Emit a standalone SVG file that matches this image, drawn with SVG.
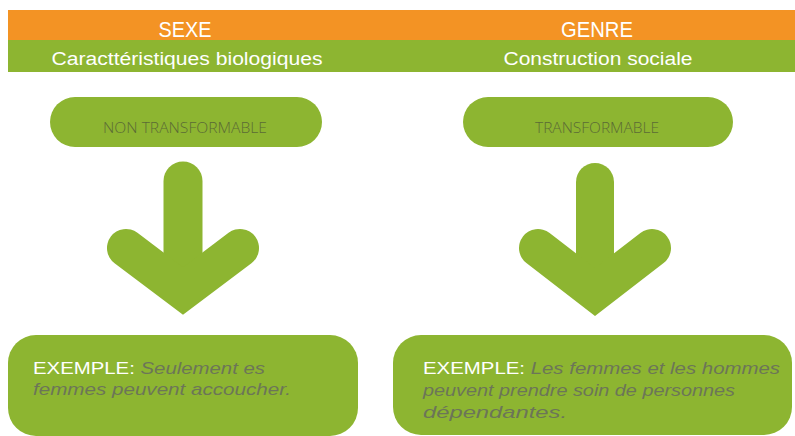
<svg xmlns="http://www.w3.org/2000/svg" width="795" height="436" viewBox="0 0 795 436">
<style>
.orange{fill:#F39324}
.green{fill:#8DB531}
.arrow{fill:none;stroke:#8DB531}
.hdr{font-family:"Liberation Sans",Arial,sans-serif;fill:#FFFFFF;text-anchor:middle}
.pilltxt{font-family:"Open Sans","Liberation Sans",sans-serif;font-weight:300;font-size:15px;fill:#5B6B35;text-anchor:middle}
.ex{font-family:"Liberation Sans",Arial,sans-serif;font-size:17px}
.exlbl{fill:#FFFFFF}
.exit{fill:#6C7558;font-style:italic}
</style>
<rect width="795" height="436" fill="#FFFFFF"/>
<g id="header">
<rect class="orange" x="8" y="10" width="787" height="30"/>
<rect class="green" x="8" y="40" width="787" height="32"/>
<text class="hdr" x="185" y="37" font-size="22" textLength="53" lengthAdjust="spacingAndGlyphs">SEXE</text>
<text class="hdr" x="187" y="65" font-size="18" textLength="271" lengthAdjust="spacingAndGlyphs">Caracttéristiques biologiques</text>
<text class="hdr" x="597" y="37" font-size="22" textLength="72" lengthAdjust="spacingAndGlyphs">GENRE</text>
<text class="hdr" x="598" y="65" font-size="18" textLength="189" lengthAdjust="spacingAndGlyphs">Construction sociale</text>
</g>
<g id="node-non-transformable">
<rect class="green" x="50" y="97" width="272" height="50" rx="25"/>
<text class="pilltxt" x="185" y="133" textLength="164" lengthAdjust="spacingAndGlyphs">NON TRANSFORMABLE</text>
</g>
<g id="node-transformable">
<rect class="green" x="463" y="97" width="270" height="50" rx="25"/>
<text class="pilltxt" x="597" y="133" textLength="124" lengthAdjust="spacingAndGlyphs">TRANSFORMABLE</text>
</g>
<g id="connectors">
<g id="arrow-left">
<path class="arrow" d="M183 181 L183 280" stroke-width="39" stroke-linecap="round"/>
<path class="arrow" d="M126 248 L183 291 L240 248" stroke-width="38" stroke-linecap="round" stroke-linejoin="miter" stroke-miterlimit="10"/>
</g>
<g id="arrow-right">
<path class="arrow" d="M595 182 L595 280" stroke-width="38" stroke-linecap="round"/>
<path class="arrow" d="M538 248 L595 292 L652 248" stroke-width="38" stroke-linecap="round" stroke-linejoin="miter" stroke-miterlimit="10"/>
</g>
</g>
<g id="node-exemple-sexe">
<rect class="green" x="8" y="335" width="350" height="101" rx="28"/>
<text class="ex" x="33" y="374" textLength="232" lengthAdjust="spacingAndGlyphs"><tspan class="exlbl">EXEMPLE: </tspan><tspan class="exit">Seulement es</tspan></text>
<text class="ex exit" x="33" y="395" textLength="258" lengthAdjust="spacingAndGlyphs">femmes peuvent accoucher.</text>
</g>
<g id="node-exemple-genre">
<rect class="green" x="393" y="335" width="399" height="100" rx="28"/>
<text class="ex" x="423" y="374" textLength="357" lengthAdjust="spacingAndGlyphs"><tspan class="exlbl">EXEMPLE: </tspan><tspan class="exit">Les femmes et les hommes</tspan></text>
<text class="ex exit" x="423" y="396" textLength="312" lengthAdjust="spacingAndGlyphs">peuvent prendre soin de personnes</text>
<text class="ex exit" x="423" y="418" textLength="144" lengthAdjust="spacingAndGlyphs">dépendantes.</text>
</g>
</svg>
